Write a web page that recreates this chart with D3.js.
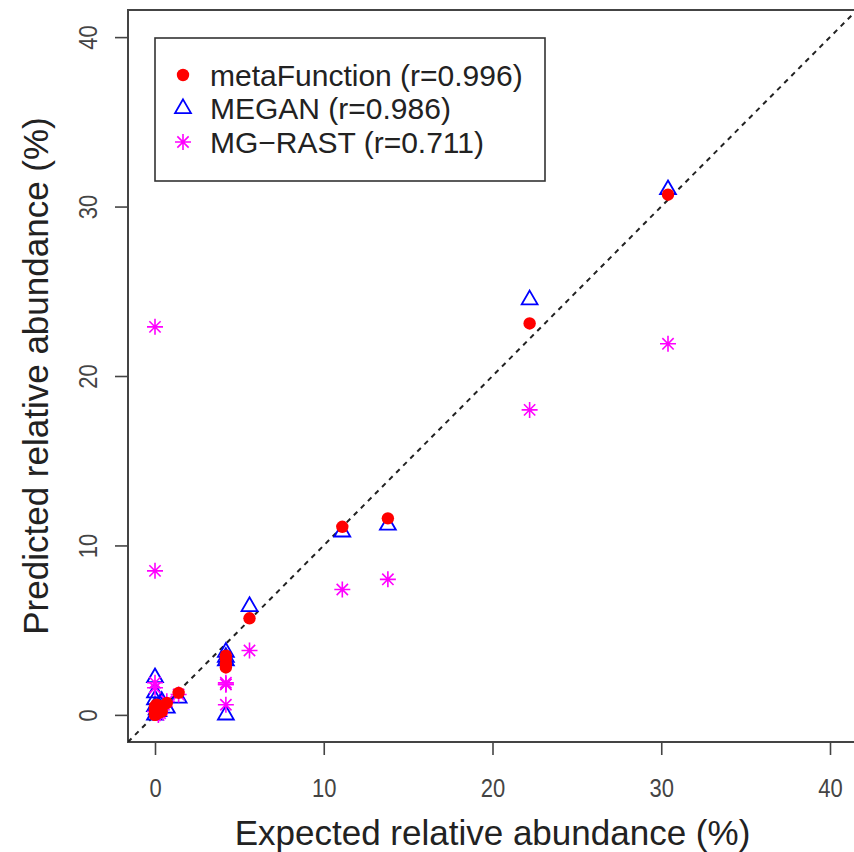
<!DOCTYPE html>
<html>
<head>
<meta charset="utf-8">
<script src="https://cdn.jsdelivr.net/npm/d3@7"></script>
<style>
  body { margin: 0; background: #fff; }
  svg { font-family: "Liberation Sans", Arial, sans-serif; }
</style>
</head>
<body>
<div id="chart"></div>
<script>
// expected abundance (%) per organism, same order for every method
var expected = [30.4, 22.2, 13.8, 11.1, 5.6, 4.2, 4.2, 4.2, 4.2, 1.4, 0.7, 0.4, 0.3, 0.2, 0.1, 0, 0, 0, 0, 0];

// predicted abundance (%) per method
var metaFunction = [30.7, 23.1, 11.6, 11.1, 5.7, 3.5, 3.3, 2.8, 3.0, 1.3, 0.7, 0.2, 0.5, 0.1, 0.6, 0.0, 0.5, 0.1, 0.0, 0.3];
var megan = [31.0, 24.5, 11.2, 10.8, 6.4, 3.7, 3.2, 0.0, 3.4, 1.0, 0.4, 0.8, 0.6, 0.2, 0.3, 2.2, 1.3, 0.9, 0.5, 0.0];
var mgRast = [21.9, 18.0, 8.0, 7.4, 3.8, 1.8, 1.9, 0.6, 1.8, 1.2, 0.8, 0.3, 0.1, 0.0, 0.2, 22.9, 8.5, 1.9, 1.6, 0.2];

var legendLabels = ["metaFunction (r=0.996)", "MEGAN (r=0.986)", "MG\u2212RAST (r=0.711)"];
var ticks = [0, 10, 20, 30, 40];

var width = 854, height = 852;
// plot region, R style 4% padding around 0..40
var margin = { top: 10, right: -3, bottom: 110, left: 128 };
var innerW = width - margin.left - margin.right;
var innerH = height - margin.top - margin.bottom;

var x = d3.scaleLinear().domain([-1.6, 41.6]).range([0, innerW]);
var y = d3.scaleLinear().domain([-1.6, 41.6]).range([innerH, 0]);

var svg = d3.select("#chart").append("svg")
  .attr("width", width)
  .attr("height", height);

svg.append("defs").append("clipPath")
  .attr("id", "clipper")
  .append("rect")
  .attr("width", innerW)
  .attr("height", innerH);

var g = svg.append("g")
  .attr("transform", "translate(" + margin.left + "," + margin.top + ")");

// axes
var xAxis = g.append("g")
  .attr("transform", "translate(0," + innerH + ")")
  .call(d3.axisBottom(x).tickValues(ticks).tickSize(13));
var yAxis = g.append("g")
  .call(d3.axisLeft(y).tickValues(ticks).tickSize(13));

[xAxis, yAxis].forEach(function(a) {
  a.select(".domain").remove();
  a.selectAll(".tick line").attr("stroke", "#444").attr("stroke-width", 1.6);
  a.selectAll(".tick text")
    .attr("fill", "#444")
    .style("font-size", "22px")
    .style("font-family", "Liberation Sans, Arial, sans-serif");
});
// R labels look a bit taller than the font, stretch them
xAxis.selectAll(".tick text")
  .attr("y", 0)
  .attr("dy", null)
  .attr("transform", "translate(0,55) scale(1,1.2)");
yAxis.selectAll(".tick text")
  .attr("text-anchor", "middle")
  .attr("dy", null)
  .attr("x", 0)
  .attr("transform", "translate(-31,0) rotate(-90) scale(1,1.2)");

// plot box
g.append("rect")
  .attr("width", innerW)
  .attr("height", innerH)
  .attr("fill", "none")
  .attr("stroke", "#444")
  .attr("stroke-width", 2);

// y = x reference line
var plot = g.append("g").attr("clip-path", "url(#clipper)");
plot.append("line")
  .attr("x1", x(-1.6)).attr("y1", y(-1.6))
  .attr("x2", x(41.6)).attr("y2", y(41.6))
  .attr("stroke", "#222")
  .attr("stroke-width", 2)
  .attr("stroke-dasharray", "5,5");

// marker shapes (R pch 16, 2, 8)
function triPath(s) {
  var hw = 1.347 * s, top = 1.555 * s, base = 0.778 * s;
  return "M0," + (-top) + "L" + hw + "," + base + "L" + (-hw) + "," + base + "Z";
}
function starPath(r) {
  var d = r * Math.SQRT1_2;
  return "M" + (-r) + ",0L" + r + ",0M0," + (-r) + "L0," + r +
    "M" + (-d) + "," + (-d) + "L" + d + "," + d +
    "M" + (-d) + "," + d + "L" + d + "," + (-d);
}

function pairs(ys) {
  return expected.map(function(e, i) { return [e, ys[i]]; });
}

plot.selectAll(".megan")
  .data(pairs(megan))
  .enter().append("path")
  .attr("class", "megan")
  .attr("transform", function(d) { return "translate(" + x(d[0]) + "," + y(d[1]) + ")"; })
  .attr("d", triPath(5.9))
  .attr("fill", "none")
  .attr("stroke", "#0000FF")
  .attr("stroke-width", 1.8);

plot.selectAll(".mgrast")
  .data(pairs(mgRast))
  .enter().append("path")
  .attr("class", "mgrast")
  .attr("transform", function(d) { return "translate(" + x(d[0]) + "," + y(d[1]) + ")"; })
  .attr("d", starPath(8))
  .attr("fill", "none")
  .attr("stroke", "#FF00FF")
  .attr("stroke-width", 1.6);

plot.selectAll(".meta")
  .data(pairs(metaFunction))
  .enter().append("circle")
  .attr("class", "meta")
  .attr("cx", function(d) { return x(d[0]); })
  .attr("cy", function(d) { return y(d[1]); })
  .attr("r", 6.2)
  .attr("fill", "#FF0000");

// axis titles
svg.append("text")
  .attr("x", margin.left + x(20))
  .attr("y", 845)
  .attr("text-anchor", "middle")
  .attr("fill", "#222")
  .style("font-size", "35px")
  .text("Expected relative abundance (%)");

svg.append("text")
  .attr("transform", "translate(48," + (margin.top + y(20)) + ") rotate(-90)")
  .attr("text-anchor", "middle")
  .attr("fill", "#222")
  .style("font-size", "35px")
  .text("Predicted relative abundance (%)");

// legend
var legend = svg.append("g").attr("transform", "translate(155,38)");
legend.append("rect")
  .attr("width", 390)
  .attr("height", 143)
  .attr("fill", "#fff")
  .attr("stroke", "#333")
  .attr("stroke-width", 1.6);

var rows = legend.selectAll(".row")
  .data(legendLabels)
  .enter().append("g")
  .attr("transform", function(d, i) { return "translate(28," + (37 + i * 33.5) + ")"; });

rows.append("text")
  .attr("x", 27)
  .attr("dy", "0.36em")
  .attr("fill", "#222")
  .style("font-size", "30px")
  .text(function(d) { return d; });

rows.filter(function(d, i) { return i === 0; })
  .append("circle").attr("r", 6.2).attr("fill", "#FF0000");
rows.filter(function(d, i) { return i === 1; })
  .append("path").attr("d", triPath(5.9))
  .attr("fill", "none").attr("stroke", "#0000FF").attr("stroke-width", 1.8);
rows.filter(function(d, i) { return i === 2; })
  .append("path").attr("d", starPath(8))
  .attr("fill", "none").attr("stroke", "#FF00FF").attr("stroke-width", 1.6);
</script>
</body>
</html>
